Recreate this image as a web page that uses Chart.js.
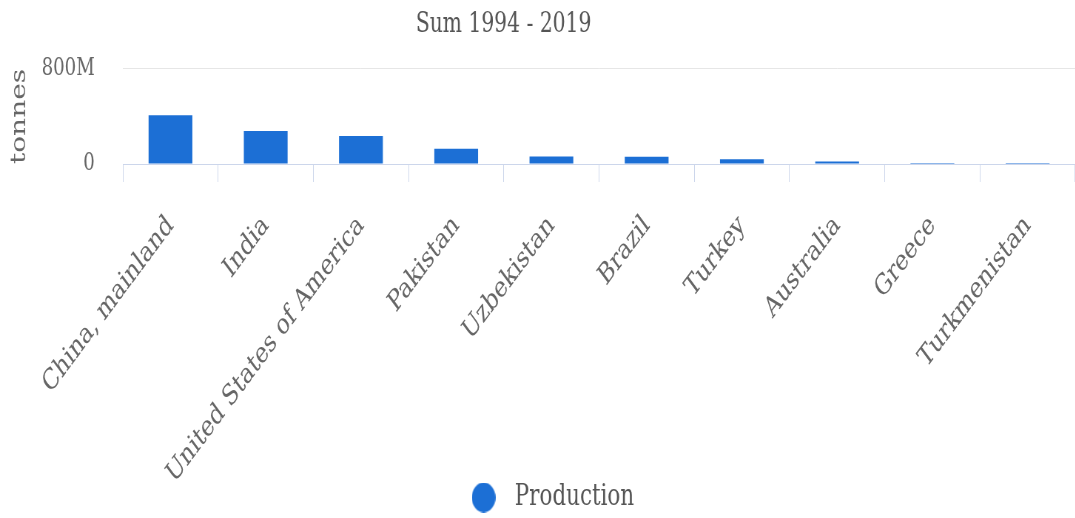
<!DOCTYPE html>
<html>
<head>
<meta charset="utf-8">
<script src="https://cdn.jsdelivr.net/npm/chart.js@4.4.1/dist/chart.umd.min.js"></script>
<style>
  html, body { margin: 0; padding: 0; background: #fff; overflow: hidden; }
  /* the chart is laid out on a wider canvas and squeezed horizontally */
  #wrap { width: 1453px; height: 518px; transform: scaleX(0.74); transform-origin: 0 0; }
</style>
</head>
<body>
<div id="wrap"><canvas id="chart" width="1453" height="518"></canvas></div>
<script>
// Cotton production, sum over 1994 - 2019 (tonnes)
const categories = ['China, mainland', 'India', 'United States of America', 'Pakistan',
                    'Uzbekistan', 'Brazil', 'Turkey', 'Australia', 'Greece', 'Turkmenistan'];
const production = [410e6, 278e6, 235e6, 128e6, 63e6, 62e6, 40e6, 20e6, 0.8e6, 0.6e6];
const yTickValues = [0, 800e6];
const yTickLabels = ['0', '800M'];
const seriesName = 'Production';
const titleText = 'Sum 1994 - 2019';
const yTitle = 'tonnes';

const FONT = "'DejaVu Serif', serif";
const BLUE = '#1c6fd5';

// legend marker
const dot = document.createElement('canvas');
dot.width = 32; dot.height = 30;
(function () {
  const g = dot.getContext('2d');
  g.fillStyle = BLUE;
  g.beginPath();
  g.ellipse(16, 15, 16, 15, 0, 0, Math.PI * 2);
  g.fill();
})();

// small offsets for the title and the legend row
const nudge = {
  id: 'nudge',
  afterLayout(chart) {
    const t = chart.titleBlock;
    if (t) { t.left -= 46; t.right -= 46; }
    const l = chart.legend;
    if (l) { l.left += 15; l.right += 15; l.top -= 5; l.bottom -= 5; }
  }
};

new Chart(document.getElementById('chart'), {
  type: 'bar',
  data: {
    labels: categories,
    datasets: [{
      label: seriesName,
      data: production,
      backgroundColor: BLUE,
      borderWidth: 0,
      barPercentage: 0.46,
      categoryPercentage: 1
    }]
  },
  options: {
    responsive: false,
    animation: false,
    layout: { padding: 0 },
    plugins: {
      title: {
        display: true,
        text: titleText,
        color: '#555',
        font: { family: FONT, size: 27.4, weight: 'normal', lineHeight: 1.2 },
        padding: { top: 8, bottom: 28 }
      },
      legend: {
        position: 'bottom',
        maxHeight: 30,
        labels: {
          usePointStyle: true,
          pointStyle: dot,
          pointStyleWidth: 55,
          padding: 0,
          color: '#555',
          font: { family: FONT, size: 29 }
        }
      },
      tooltip: { enabled: false }
    },
    scales: {
      x: {
        afterFit(scale) { scale.height = 324; },
        grid: {
          display: true,
          offset: true,
          drawOnChartArea: false,
          drawTicks: true,
          tickLength: 18,
          color: '#ccd6eb'
        },
        border: { display: true, color: '#ccd6eb' },
        ticks: {
          autoSkip: false,
          minRotation: 45,
          maxRotation: 45,
          padding: 27,
          color: '#666',
          font: { family: FONT, size: 28.5 }
        }
      },
      y: {
        min: 0,
        max: 800e6,
        afterFit(scale) { scale.width = 166; },
        afterBuildTicks(scale) { scale.ticks = yTickValues.map(v => ({ value: v })); },
        grid: { color: '#e6e6e6', drawTicks: false },
        border: { display: false },
        ticks: {
          padding: 38,
          color: '#666',
          font: { family: FONT, size: 24.5 },
          callback: (v) => yTickLabels[yTickValues.indexOf(v)]
        },
        title: {
          display: true,
          text: yTitle,
          color: '#666',
          font: { family: FONT, size: 28, lineHeight: 1.2 },
          padding: { top: 10, bottom: 10 }
        }
      }
    }
  },
  plugins: [nudge]
});
</script>
</body>
</html>
